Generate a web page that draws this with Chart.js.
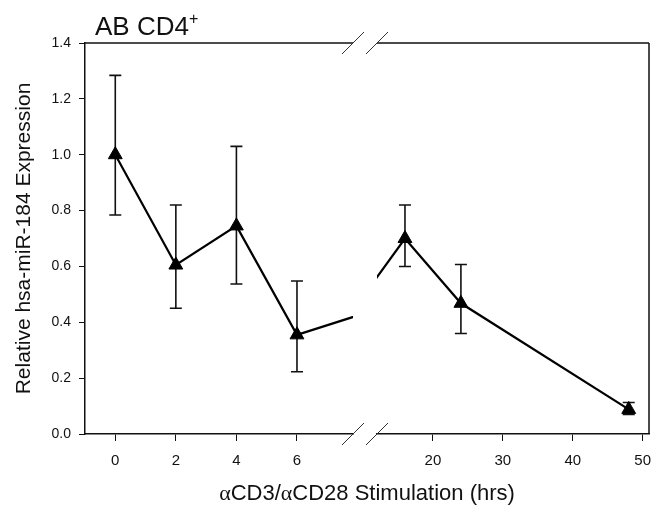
<!DOCTYPE html>
<html><head><meta charset="utf-8">
<script src="https://cdn.jsdelivr.net/npm/chart.js@4"></script>
<style>
html,body{margin:0;padding:0;background:#fff;}
#wrap{position:relative;width:667px;height:511px;overflow:hidden;background:#fff;}
canvas{position:absolute;left:0;top:0;}
.txt{position:absolute;font-family:"Liberation Sans",Arial,sans-serif;color:#111;white-space:nowrap;line-height:1;}
.greek{font-family:"Liberation Serif","Times New Roman",serif;}
</style></head><body>
<div id="wrap">
<canvas id="cEarly" width="667" height="511"></canvas>
<canvas id="cLate" width="667" height="511"></canvas>
<div class="txt" style="left:95px;top:13px;font-size:26px;">AB CD4<span style="font-size:16px;position:relative;top:-11px;">+</span></div>
<div class="txt" style="left:0;width:734px;text-align:center;top:482px;font-size:22px;"><span class="greek">α</span>CD3/<span class="greek">α</span>CD28 Stimulation (hrs)</div>
</div>
<script>
// ---- data ----
const hours      = [0, 2, 4, 6, 16, 24, 48];
const expression = [1.00, 0.605, 0.745, 0.355, 0.70, 0.468, 0.088];
const errUpper   = [1.284, 0.82, 1.03, 0.548, 0.82, 0.607, 0.113];
const errLower   = [0.784, 0.45, 0.537, 0.223, 0.60, 0.36, 0.07];
const xTicksEarly = [0, 2, 4, 6];
const xTicksLate  = [20, 30, 40, 50];
const yTicks      = [0, 0.2, 0.4, 0.6, 0.8, 1.0, 1.2, 1.4];
const xRangeEarly = [-1, 7.85];
const xRangeLate  = [12, 50.9];
const yRange      = [0, 1.4];
const yTitle = 'Relative hsa-miR-184 Expression';

const FONT = '"Liberation Sans", Arial, sans-serif';
const INK = '#111';

const errorBars = {
  id: 'errorBars',
  beforeDatasetsDraw(chart) {
    const {ctx, chartArea: a, scales: {x, y}} = chart;
    ctx.save();
    ctx.beginPath(); ctx.rect(a.left, a.top - 3, a.right - a.left, a.bottom - a.top + 6); ctx.clip();
    ctx.strokeStyle = INK; ctx.lineWidth = 1.6;
    hours.forEach((h, i) => {
      if (h < x.min || h > x.max) return;
      const px = x.getPixelForValue(h);
      const yt = y.getPixelForValue(errUpper[i]);
      const yb = y.getPixelForValue(errLower[i]);
      ctx.beginPath();
      ctx.moveTo(px, yt); ctx.lineTo(px, yb);
      ctx.moveTo(px - 6, yt); ctx.lineTo(px + 6, yt);
      ctx.moveTo(px - 6, yb); ctx.lineTo(px + 6, yb);
      ctx.stroke();
    });
    ctx.restore();
  }
};

function framePlugin(side) {
  return {
    id: 'frame',
    afterDraw(chart) {
      const {ctx, chartArea: a} = chart;
      ctx.save();
      ctx.strokeStyle = INK; ctx.lineWidth = 1.5;
      ctx.beginPath();
      ctx.moveTo(a.left, a.top); ctx.lineTo(a.right, a.top);
      if (side === 'late') { ctx.moveTo(a.right, a.top); ctx.lineTo(a.right, a.bottom); }
      ctx.stroke();
      const bx = side === 'early' ? a.right : a.left;
      ctx.lineWidth = 1; ctx.strokeStyle = '#333';
      [a.top, a.bottom].forEach(by => {
        ctx.beginPath(); ctx.moveTo(bx - 11, by + 11); ctx.lineTo(bx + 11, by - 11); ctx.stroke();
      });
      ctx.restore();
    }
  };
}

function makeChart(id, side) {
  const early = side === 'early';
  const xr = early ? xRangeEarly : xRangeLate;
  const xt = early ? xTicksEarly : xTicksLate;
  return new Chart(document.getElementById(id), {
    type: 'scatter',
    data: {
      datasets: [{
        data: hours.map((h, i) => ({x: h, y: expression[i]})),
        showLine: true,
        borderColor: '#000',
        borderWidth: 2.2,
        pointStyle: 'triangle',
        pointRadius: 8,
        pointHoverRadius: 8,
        pointBackgroundColor: '#000',
        pointBorderColor: '#000',
        pointBorderWidth: 1,
        clip: 0
      }]
    },
    options: {
      responsive: false,
      animation: false,
      devicePixelRatio: 1,
      layout: { padding: early ? {left: 0, right: 314, top: 43, bottom: 0} : {left: 377, right: 18, top: 43, bottom: 0} },
      plugins: { legend: {display: false}, tooltip: {enabled: false}, title: {display: false} },
      scales: {
        x: {
          type: 'linear', min: xr[0], max: xr[1],
          afterBuildTicks: s => { s.ticks = xt.map(v => ({value: v})); },
          afterFit: s => { s.height = 77; },
          grid: { drawOnChartArea: false, drawTicks: true, tickLength: 7, color: INK, lineWidth: 1 },
          border: { display: true, color: INK, width: 1.5 },
          ticks: { color: INK, font: {family: FONT, size: 15}, padding: 11, maxRotation: 0, autoSkip: false }
        },
        y: {
          display: early, min: yRange[0], max: yRange[1],
          afterBuildTicks: s => { s.ticks = yTicks.map(v => ({value: v})); },
          afterFit: s => { s.width = early ? 85 : 0; },
          grid: { drawOnChartArea: false, drawTicks: true, tickLength: 6, color: INK, lineWidth: 1 },
          border: { display: true, color: INK, width: 1.5 },
          ticks: { color: INK, font: {family: FONT, size: 14}, padding: 8, callback: v => Number(v).toFixed(1) },
          title: { display: true, text: yTitle, color: INK, font: {family: FONT, size: 21}, padding: {top: 12, bottom: 0} }
        }
      }
    },
    plugins: [errorBars, framePlugin(side)]
  });
}
makeChart('cEarly', 'early');
makeChart('cLate', 'late');
</script>
</body></html>
